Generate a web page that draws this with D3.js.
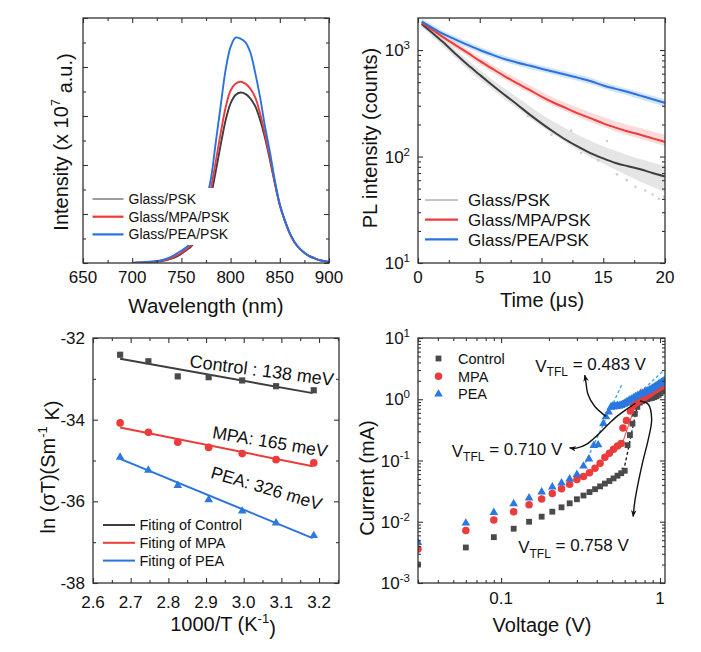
<!DOCTYPE html>
<html><head><meta charset="utf-8">
<script src="https://cdn.jsdelivr.net/npm/d3@7"></script>
<style>
body{margin:0;background:#fff;}
svg text{font-family:"Liberation Sans",Arial,Helvetica,sans-serif;fill:#111;}
</style></head><body>
<svg id="c" width="701" height="652"></svg>
<script>
// ---------------- Panel (a): steady-state PL ----------------
const wavelength = [700,705,710,715,720,725,730,735,740,745,750,755,760,765,770,775,780,785,790,795,800,805,810,815,820,825,830,835,840,845,850,855,860,865,870,875,880,885,890,895,900];
const intPSK = [0.00,0.00,0.01,0.01,0.02,0.03,0.04,0.06,0.09,0.13,0.19,0.26,0.34,0.50,0.72,1.02,1.38,1.88,2.42,2.92,3.26,3.43,3.48,3.45,3.36,3.20,2.92,2.55,2.10,1.62,1.18,0.87,0.61,0.42,0.30,0.21,0.14,0.10,0.06,0.04,0.02];
const intMPA = [0.00,0.01,0.01,0.02,0.02,0.03,0.05,0.07,0.10,0.15,0.21,0.28,0.37,0.55,0.80,1.12,1.52,2.08,2.66,3.18,3.52,3.66,3.70,3.66,3.56,3.38,3.05,2.62,2.15,1.64,1.19,0.87,0.61,0.42,0.30,0.21,0.14,0.10,0.06,0.04,0.02];
const intPEA = [0.00,0.01,0.01,0.02,0.03,0.04,0.06,0.09,0.13,0.19,0.25,0.32,0.42,0.62,0.90,1.25,1.72,2.47,3.22,3.95,4.41,4.60,4.58,4.51,4.30,3.88,3.38,2.78,2.26,1.68,1.20,0.88,0.62,0.43,0.30,0.21,0.14,0.10,0.06,0.04,0.02];
const legendA = ["Glass/PSK","Glass/MPA/PSK","Glass/PEA/PSK"];
const wlTicks = [650,700,750,800,850,900];
const wlMinor = [675,725,775,825,875];
const intTicks = [0,1,2,3,4,5];
const intMinor = [0.5,1.5,2.5,3.5,4.5];

// ---------------- Panel (b): TRPL ----------------
const timeUs = [0.3,1,2,3,4,5,6,7,8,9,10,11,12,13,14,15,16,17,18,19,20];
const fitPSK = [1757,1500,1195,930,730,585,470,380,310,250,205,170,143,123,107,96,87,81,76,70,65];
const fitMPA = [1800,1600,1330,1120,945,790,670,570,490,425,365,320,285,253,228,205,187,172,160,148,137];
const fitPEA = [1850,1660,1425,1260,1120,1000,905,825,765,715,668,625,585,548,510,465,432,403,373,345,320];
const rawPSKlo = [1640,1390,1090,850,660,530,430,345,285,232,192,160,135,115,98,86,75,66,58,52,46];
const rawPSKhi = [1880,1620,1300,1020,810,650,530,435,362,300,250,212,182,158,140,125,113,103,95,88,82];
const rawMPAlo = [1700,1500,1240,1040,880,735,620,530,455,395,340,298,265,235,210,190,172,158,147,136,125];
const rawMPAhi = [1920,1710,1430,1210,1020,860,730,625,540,470,405,355,318,285,258,235,214,198,185,172,160];
const rawPEAlo = [1750,1560,1340,1180,1050,940,850,775,715,668,625,585,545,510,475,435,402,375,345,318,295];
const rawPEAhi = [1980,1780,1520,1350,1200,1070,970,885,820,765,715,670,628,590,550,500,465,432,402,372,345];
const strayPSKt = [8.9,10.8,13.2,14.6,16.1,16.9,17.6,18.4,19.0,19.5,19.9,15.3,12.4];
const strayPSKv = [240,160,108,92,68,60,52,48,44,40,42,140,175];
const legendB = ["Glass/PSK","Glass/MPA/PSK","Glass/PEA/PSK"];
const tTicks = [0,5,10,15,20];
const tMinor = [2.5,7.5,12.5,17.5];
const plTicks = [10,100,1000];
const plTickExp = ["1","2","3"];
const plMinor = [20,30,40,50,60,70,80,90,200,300,400,500,600,700,800,900];

// ---------------- Panel (c): Arrhenius ----------------
const invT = [2.672,2.747,2.825,2.907,2.996,3.086,3.186];
const lnControl = [-32.41,-32.57,-32.94,-32.96,-33.04,-33.18,-33.28];
const lnMPA = [-34.08,-34.31,-34.55,-34.68,-34.83,-34.98,-35.06];
const lnPEA = [-34.92,-35.24,-35.61,-35.96,-36.24,-36.53,-36.84];
const fitInvT = [2.672,3.183];
const fitLnControl = [-32.51,-33.35];
const fitLnMPA = [-34.19,-35.14];
const fitLnPEA = [-34.96,-36.90];
const legendC = ["Fiting of Control","Fiting of MPA","Fiting of PEA"];
const energyLabels = ["Control : 138 meV","MPA: 165 meV","PEA: 326 meV"];
const energyAnchorX = [2.855,2.915,2.91];
const energyAnchorY = [-32.71,-34.45,-35.42];
const energyAngle = [7.5,9.5,16.5];
const invTTicks = [2.6,2.7,2.8,2.9,3.0,3.1,3.2];
const invTMinor = [2.65,2.75,2.85,2.95,3.05,3.15,3.25];
const lnTicks = [-32,-34,-36,-38];
const lnMinor = [-33,-35,-37];

// ---------------- Panel (d): SCLC ----------------
const voltCtrl = [0.03,0.06,0.09,0.12,0.15,0.18,0.21,0.24,0.27,0.30,0.33,0.36,0.39,0.42,0.45,0.48,0.51,0.54,0.57,0.60,0.625,0.647,0.671,0.695,0.72,0.745,0.77,0.80,0.83,0.86,0.89,0.92,0.95,0.98,1.01,1.04,1.07];
const curCtrl = [0.0020,0.0038,0.0056,0.0077,0.0100,0.0121,0.0146,0.0172,0.0200,0.0233,0.0268,0.0305,0.0340,0.0378,0.0420,0.0462,0.0510,0.0565,0.0620,0.0680,0.178,0.26,0.40,0.58,0.75,0.88,0.93,0.97,1.00,1.03,1.05,1.08,1.12,1.18,1.26,1.36,1.50];
const voltMPA = [0.03,0.06,0.09,0.12,0.15,0.18,0.21,0.24,0.27,0.30,0.33,0.36,0.39,0.42,0.45,0.48,0.51,0.54,0.57,0.585,0.615,0.65,0.68,0.71,0.74,0.77,0.80,0.83,0.86,0.89,0.92,0.95,0.98,1.01,1.04,1.07];
const curMPA = [0.0036,0.0072,0.0107,0.0146,0.019,0.0236,0.0288,0.0347,0.041,0.049,0.055,0.063,0.075,0.090,0.113,0.131,0.152,0.172,0.19,0.34,0.45,0.64,0.80,0.88,0.95,1.02,1.08,1.15,1.22,1.30,1.38,1.45,1.52,1.60,1.66,1.72];
const voltPEA = [0.03,0.06,0.09,0.12,0.15,0.18,0.21,0.24,0.27,0.30,0.33,0.357,0.383,0.408,0.44,0.457,0.475,0.49,0.50,0.51,0.52,0.53,0.54,0.55,0.56,0.57,0.58,0.59,0.60,0.61,0.62,0.64,0.66,0.68,0.70,0.72,0.74,0.76,0.78,0.80,0.82,0.84,0.86,0.88,0.90,0.92,0.94,0.96,0.98,1.00,1.02,1.04,1.06];
const curPEA = [0.0046,0.0095,0.0142,0.0197,0.0245,0.0307,0.037,0.043,0.050,0.059,0.081,0.106,0.176,0.18,0.40,0.52,0.62,0.74,0.77,0.75,0.78,0.76,0.79,0.77,0.80,0.79,0.82,0.83,0.85,0.88,0.91,0.96,1.00,1.05,1.10,1.14,1.18,1.22,1.26,1.30,1.34,1.38,1.42,1.47,1.52,1.58,1.64,1.70,1.76,1.82,1.88,1.94,2.00];
const legendD = ["Control","MPA","PEA"];
// trap-filled-limit guide lines (V, I)
const tflPEAV = [0.328,0.573], tflPEAI = [0.076,1.70];
const tflPEA2V = [0.748,1.05], tflPEA2I = [1.29,2.91];
const tflMPAV = [0.575,0.76], tflMPAI = [0.18,1.5];
const tflCtrlV = [0.573,0.595,0.73], tflCtrlI = [0.074,0.074,0.94];
// annotation arrows (V, I)
const arr483V = [0.456,0.388,0.352,0.340,0.336], arr483I = [0.526,0.768,1.21,2.13,2.47];
const arr710V = [0.702,0.616,0.533,0.461,0.398,0.344,0.298,0.270], arr710I = [0.86,0.686,0.52,0.365,0.25,0.183,0.159,0.161];
const arr758V = [0.748,0.843,0.886,0.843,0.785,0.735,0.695,0.678], arr758I = [0.938,0.828,0.47,0.22,0.104,0.048,0.022,0.0122];
const tflValues = ["0.483","0.710","0.758"];
const tflTextV = [0.164,0.0489,0.128];
const tflTextI = [2.82,0.115,0.00306];
const vTicks = [0.1,1];
const vMinor = [0.03,0.04,0.05,0.06,0.07,0.08,0.09,0.2,0.3,0.4,0.5,0.6,0.7,0.8,0.9];
const iTicks = [0.001,0.01,0.1,1,10];
const iTickExp = ["-3","-2","-1","0","1"];
const iMinor = [0.002,0.003,0.004,0.005,0.006,0.007,0.008,0.009,0.02,0.03,0.04,0.05,0.06,0.07,0.08,0.09,0.2,0.3,0.4,0.5,0.6,0.7,0.8,0.9,2,3,4,5,6,7,8,9];

// ---------------- styles ----------------
const C = {psk:"#3d3d3d", mpa:"#ec3b3b", pea:"#2a73de"};
const CL = {psk:"#cfcfcf", mpa:"#f6bcbc", pea:"#b0cdf3"};
const MK = {psk:"#4a4a4a", mpa:"#ec3b3b", pea:"#2a78e0"};

const svg = d3.select("#c");
const defs = svg.append("defs");
defs.append("marker").attr("id","ah").attr("viewBox","0 0 10 10").attr("refX",9).attr("refY",5)
  .attr("markerWidth",7).attr("markerHeight",7).attr("orient","auto-start-reverse").attr("markerUnits","userSpaceOnUse")
  .append("path").attr("d","M0,1 L10,5 L0,9 L3,5 Z").attr("fill","#111");

function clip(id,P){ defs.append("clipPath").attr("id",id).append("rect").attr("x",P.x0).attr("y",P.y0).attr("width",P.x1-P.x0).attr("height",P.y1-P.y0); }
function frame(P){ svg.append("rect").attr("x",P.x0).attr("y",P.y0).attr("width",P.x1-P.x0).attr("height",P.y1-P.y0).attr("fill","none").attr("stroke","#333").attr("stroke-width",1.3); }
function ticks(P, xs, ys, xMaj, xMin, yMaj, yMin){
  const mk=(fn, sc, vals, len, tr)=>{
    const g=svg.append("g").attr("transform",tr).call(fn(sc).tickValues(vals).tickSize(-len).tickFormat(""));
    g.select(".domain").remove();
    g.selectAll("line").attr("stroke","#333").attr("stroke-width",1.1);
  };
  [[xMaj,5],[xMin,3]].forEach(([v,l])=>{ mk(d3.axisBottom,xs,v,l,`translate(0,${P.y1})`); mk(d3.axisTop,xs,v,l,`translate(0,${P.y0})`); });
  [[yMaj,5],[yMin,3]].forEach(([v,l])=>{ mk(d3.axisLeft,ys,v,l,`translate(${P.x0},0)`); mk(d3.axisRight,ys,v,l,`translate(${P.x1},0)`); });
}
function xLabels(xs, vals, fmt, y){
  svg.append("g").selectAll("text").data(vals).enter().append("text")
    .attr("x",d=>xs(d)).attr("y",y).attr("text-anchor","middle").attr("font-size",17).text(fmt);
}
function yLabels(ys, vals, fmt, x){
  svg.append("g").selectAll("text").data(vals).enter().append("text")
    .attr("x",x).attr("y",d=>ys(d)).attr("dy","0.36em").attr("text-anchor","end").attr("font-size",17).text(fmt);
}
function yPowLabels(ys, vals, exps, x){
  const t = svg.append("g").selectAll("text").data(vals).enter().append("text")
    .attr("x",x).attr("y",d=>ys(d)).attr("dy","0.36em").attr("text-anchor","end").attr("font-size",17);
  t.append("tspan").text("10");
  t.append("tspan").attr("font-size",11.5).attr("dy","-0.62em").text((d,i)=>exps[i]);
}

// ================= Panel (a) =================
const PA = {x0:83,y0:18,x1:329,y1:263};
const xa = d3.scaleLinear().domain([650,900]).range([PA.x0,PA.x1]);
const ya = d3.scaleLinear().domain([0,5]).range([PA.y1,PA.y0]);
clip("cpa",PA);
const lineA = arr => d3.line().x((d,i)=>xa(wavelength[i])).y(d=>ya(d)).curve(d3.curveCatmullRom)(arr);
const ga = svg.append("g").attr("clip-path","url(#cpa)");
[[intPSK,C.psk],[intMPA,C.mpa],[intPEA,C.pea]].forEach(([a,c])=>{
  ga.append("path").attr("d",lineA(a)).attr("fill","none").attr("stroke",c).attr("stroke-width",1.9);
});
// legend with white background
svg.append("rect").attr("x",88).attr("y",188).attr("width",150).attr("height",57).attr("fill","#fff");
legendA.forEach((name,i)=>{
  const y = 199 + i*17.7;
  svg.append("line").attr("x1",92.5).attr("x2",123.5).attr("y1",y).attr("y2",y)
    .attr("stroke",[C.psk,C.mpa,C.pea][i]).attr("stroke-width",i===0?1:2.2);
  svg.append("text").attr("x",128.5).attr("y",y).attr("dy","0.36em").attr("font-size",14).text(name);
});
frame(PA);
ticks(PA,xa,ya,wlTicks,wlMinor,intTicks,intMinor);
xLabels(xa,wlTicks,d=>d,283);
svg.append("text").attr("x",206).attr("y",313).attr("text-anchor","middle").attr("font-size",20.5).text("Wavelength (nm)");
{
  const t = svg.append("text").attr("text-anchor","middle").attr("font-size",20).attr("transform","translate(68,142) rotate(-90)");
  t.append("tspan").text("Intensity (x 10");
  t.append("tspan").attr("font-size",13).attr("dy","-0.6em").text("7");
  t.append("tspan").attr("dy","0.6em").text(" a.u.)");
}

// ================= Panel (b) =================
const PB = {x0:418,y0:18,x1:665,y1:263};
const xb = d3.scaleLinear().domain([0,20]).range([PB.x0,PB.x1]);
const yb = d3.scaleLog().domain([10,2000]).range([PB.y1,PB.y0]);
clip("cpb",PB);
const gb = svg.append("g").attr("clip-path","url(#cpb)");
const areaB = (lo,hi) => d3.area().x((d,i)=>xb(timeUs[i])).y0((d,i)=>yb(lo[i])).y1((d,i)=>yb(hi[i])).curve(d3.curveMonotoneX)(lo);
[[rawPSKlo,rawPSKhi,CL.psk],[rawMPAlo,rawMPAhi,CL.mpa],[rawPEAlo,rawPEAhi,CL.pea]].forEach(([lo,hi,c])=>{
  gb.append("path").attr("d",areaB(lo,hi)).attr("fill",c).attr("opacity",0.55);
});
gb.selectAll("circle.stray").data(strayPSKt).enter().append("circle")
  .attr("cx",d=>xb(d)).attr("cy",(d,i)=>yb(strayPSKv[i])).attr("r",1.3).attr("fill",CL.psk);
const lineB = arr => d3.line().x((d,i)=>xb(timeUs[i])).y(d=>yb(d)).curve(d3.curveMonotoneX)(arr);
[[fitPSK,C.psk],[fitMPA,C.mpa],[fitPEA,C.pea]].forEach(([a,c])=>{
  gb.append("path").attr("d",lineB(a)).attr("fill","none").attr("stroke",c).attr("stroke-width",2);
});
legendB.forEach((name,i)=>{
  const y = 200 + i*19.7;
  svg.append("line").attr("x1",425).attr("x2",458).attr("y1",y).attr("y2",y)
    .attr("stroke",i===0?"#8a8a8a":[C.psk,C.mpa,C.pea][i]).attr("stroke-width",i===0?1:2.2);
  svg.append("text").attr("x",468).attr("y",y).attr("dy","0.36em").attr("font-size",17).text(name);
});
frame(PB);
ticks(PB,xb,yb,tTicks,tMinor,plTicks,plMinor);
xLabels(xb,tTicks,d=>d,283);
yPowLabels(yb,plTicks,plTickExp,410);
svg.append("text").attr("x",542).attr("y",307).attr("text-anchor","middle").attr("font-size",20).text("Time (\u03bcs)");
svg.append("text").attr("text-anchor","middle").attr("font-size",20).attr("transform","translate(377,138) rotate(-90)").text("PL intensity (counts)");

// ================= Panel (c) =================
const PC = {x0:93,y0:338,x1:339,y1:583};
const xc = d3.scaleLinear().domain([2.6,3.253]).range([PC.x0,PC.x1]);
const yc = d3.scaleLinear().domain([-38,-32]).range([PC.y1,PC.y0]);
const fitLine = ys => d3.line().x((d,i)=>xc(fitInvT[i])).y(d=>yc(d))(ys);
[[fitLnControl,C.psk],[fitLnMPA,C.mpa],[fitLnPEA,C.pea]].forEach(([a,c])=>{
  svg.append("path").attr("d",fitLine(a)).attr("fill","none").attr("stroke",c).attr("stroke-width",2);
});
svg.append("g").selectAll("path").data(lnControl).enter().append("path")
  .attr("d",d3.symbol(d3.symbolSquare,38)).attr("transform",(d,i)=>`translate(${xc(invT[i])},${yc(d)})`).attr("fill",MK.psk);
svg.append("g").selectAll("path").data(lnMPA).enter().append("path")
  .attr("d",d3.symbol(d3.symbolCircle,46)).attr("transform",(d,i)=>`translate(${xc(invT[i])},${yc(d)})`).attr("fill",MK.mpa);
svg.append("g").selectAll("path").data(lnPEA).enter().append("path")
  .attr("d",d3.symbol(d3.symbolTriangle,32)).attr("transform",(d,i)=>`translate(${xc(invT[i])},${yc(d)})`).attr("fill",MK.pea);
energyLabels.forEach((s,i)=>{
  svg.append("text").attr("font-size",i===0?18:17.5)
    .attr("transform",`translate(${xc(energyAnchorX[i])},${yc(energyAnchorY[i])}) rotate(${energyAngle[i]})`).text(s);
});
legendC.forEach((name,i)=>{
  const y = 525 + i*17.8;
  svg.append("line").attr("x1",103).attr("x2",135).attr("y1",y).attr("y2",y)
    .attr("stroke",[C.psk,C.mpa,C.pea][i]).attr("stroke-width",2);
  svg.append("text").attr("x",139.5).attr("y",y).attr("dy","0.36em").attr("font-size",14.5).text(name);
});
frame(PC);
ticks(PC,xc,yc,invTTicks,invTMinor,lnTicks,lnMinor);
xLabels(xc,invTTicks,d=>d.toFixed(1),608);
yLabels(yc,lnTicks,d=>"-"+Math.abs(d),85);
{
  const t = svg.append("text").attr("x",223).attr("y",631).attr("text-anchor","middle").attr("font-size",20);
  t.append("tspan").text("1000/T (K");
  t.append("tspan").attr("font-size",13).attr("dy","-0.6em").text("-1");
  t.append("tspan").attr("dy","0.6em").text(")");
}
{
  const t = svg.append("text").attr("text-anchor","middle").attr("font-size",20).attr("transform","translate(55,467) rotate(-90)");
  t.append("tspan").text("ln (\u03c3T)(Sm");
  t.append("tspan").attr("font-size",13).attr("dy","-0.6em").text("-1");
  t.append("tspan").attr("dy","0.6em").text(" K)");
}

// ================= Panel (d) =================
const PD = {x0:418,y0:338,x1:665,y1:583};
const xd = d3.scaleLog().domain([0.03,1.075]).range([PD.x0,PD.x1]);
const yd = d3.scaleLog().domain([0.001,10]).range([PD.y1,PD.y0]);
clip("cpd",PD);
const gd = svg.append("g").attr("clip-path","url(#cpd)");
const lineD = (vs,is) => d3.line().x((d,i)=>xd(vs[i])).y((d,i)=>yd(is[i]))(vs);
gd.append("path").attr("d",lineD(tflPEAV,tflPEAI)).attr("fill","none").attr("stroke","#3ea2f2").attr("stroke-width",1.4).attr("stroke-dasharray","3,2.5");
gd.append("path").attr("d",lineD(tflPEA2V,tflPEA2I)).attr("fill","none").attr("stroke","#3ea2f2").attr("stroke-width",1.4).attr("stroke-dasharray","3,2.5");
gd.append("path").attr("d",lineD(tflMPAV,tflMPAI)).attr("fill","none").attr("stroke",C.mpa).attr("stroke-width",1);
gd.append("path").attr("d",lineD(tflCtrlV,tflCtrlI)).attr("fill","none").attr("stroke","#111").attr("stroke-width",1.3).attr("stroke-dasharray","3,2.5");
gd.append("g").selectAll("path").data(curCtrl).enter().append("path")
  .attr("d",d3.symbol(d3.symbolSquare,34)).attr("transform",(d,i)=>`translate(${xd(voltCtrl[i])},${yd(d)})`).attr("fill",MK.psk);
gd.append("g").selectAll("path").data(curMPA).enter().append("path")
  .attr("d",d3.symbol(d3.symbolCircle,44)).attr("transform",(d,i)=>`translate(${xd(voltMPA[i])},${yd(d)})`).attr("fill",MK.mpa);
gd.append("g").selectAll("path").data(curPEA).enter().append("path")
  .attr("d",d3.symbol(d3.symbolTriangle,32)).attr("transform",(d,i)=>`translate(${xd(voltPEA[i])},${yd(d)})`).attr("fill",MK.pea);
const curveD = (vs,is) => d3.line().x((d,i)=>xd(vs[i])).y((d,i)=>yd(is[i])).curve(d3.curveCatmullRom)(vs);
[[arr483V,arr483I],[arr710V,arr710I],[arr758V,arr758I]].forEach(([v,c])=>{
  svg.append("path").attr("d",curveD(v,c)).attr("fill","none").attr("stroke","#111").attr("stroke-width",1.4).attr("marker-end","url(#ah)");
});
tflValues.forEach((s,i)=>{
  const t = svg.append("text").attr("x",xd(tflTextV[i])).attr("y",yd(tflTextI[i])).attr("font-size",17);
  t.append("tspan").text("V");
  t.append("tspan").attr("font-size",12).attr("dy","0.38em").text("TFL");
  t.append("tspan").attr("dy","-0.38em").text(" = " + s + " V");
});
// legend
const legSym = [d3.symbol(d3.symbolSquare,34)(), d3.symbol(d3.symbolCircle,44)(), d3.symbol(d3.symbolTriangle,32)()];
legendD.forEach((name,i)=>{
  const y = 358.5 + i*17.8;
  svg.append("path").attr("d",legSym[i]).attr("transform",`translate(438.5,${y})`).attr("fill",[MK.psk,MK.mpa,MK.pea][i]);
  svg.append("text").attr("x",458).attr("y",y).attr("dy","0.36em").attr("font-size",14.5).text(name);
});
frame(PD);
ticks(PD,xd,yd,vTicks,vMinor,iTicks,iMinor);
xLabels(xd,vTicks,d=>d,604);
yPowLabels(yd,iTicks,iTickExp,410);
svg.append("text").attr("x",542).attr("y",632).attr("text-anchor","middle").attr("font-size",20).text("Voltage (V)");
svg.append("text").attr("text-anchor","middle").attr("font-size",20).attr("transform","translate(374,478) rotate(-90)").text("Current (mA)");
</script>
</body></html>
